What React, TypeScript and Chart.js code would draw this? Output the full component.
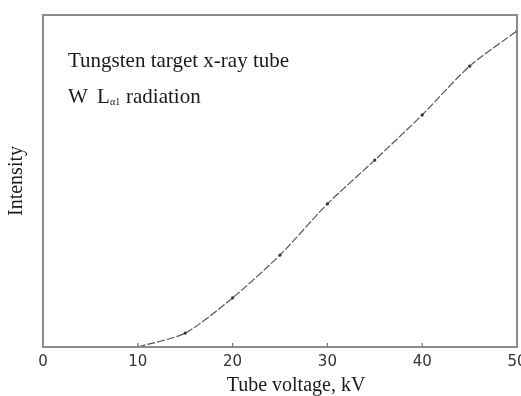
import React, { useEffect, useRef } from "react";
import { Chart, registerables } from "chart.js";

Chart.register(...registerables);

const voltages = [10, 15, 20, 25, 30, 35, 40, 45, 50];
const intensity = [0, 4.2, 14.8, 27.7, 43.1, 56.3, 69.9, 84.6, 95.2];
const xTicks = [0, 10, 20, 30, 40, 50];
const noteLine1 = "Tungsten target x-ray tube";
const noteLine2 = ["W", "L", "α1", "radiation"];
const xTitle = "Tube voltage, kV";
const yTitle = "Intensity";

const framePlugin = {
  id: "frameAndNotes",
  afterDraw(chart: any) {
    const { ctx, chartArea } = chart;
    const xs = chart.scales.x;
    ctx.save();
    // frame
    ctx.strokeStyle = "#8c8c8c";
    ctx.lineWidth = 2;
    ctx.strokeRect(chartArea.left, chartArea.top, chartArea.right - chartArea.left, chartArea.bottom - chartArea.top);
    // inner tick marks
    ctx.strokeStyle = "#777";
    ctx.lineWidth = 1.2;
    xTicks.slice(1, -1).forEach((v) => {
      const px = xs.getPixelForValue(v);
      ctx.beginPath();
      ctx.moveTo(px, chartArea.bottom);
      ctx.lineTo(px, chartArea.bottom - 4);
      ctx.stroke();
    });
    // notes
    ctx.fillStyle = "#1a1a1a";
    ctx.textBaseline = "middle";
    ctx.textAlign = "left";
    ctx.font = "21px 'Liberation Serif'";
    ctx.fillText(noteLine1, 68, 61);
    ctx.fillText(noteLine2[0], 68, 97);
    ctx.fillText(noteLine2[1], 97, 97);
    ctx.font = "10px 'Liberation Serif'";
    ctx.fillText(noteLine2[2], 110, 102);
    ctx.font = "21px 'Liberation Serif'";
    ctx.fillText(noteLine2[3], 126, 97);
    // x title
    ctx.font = "20px 'Liberation Serif'";
    ctx.textAlign = "center";
    ctx.fillText(xTitle, 296, 386);
    ctx.restore();
  },
};

export default function App() {
  const ref = useRef<HTMLCanvasElement>(null);
  useEffect(() => {
    document.body.style.margin = "0";
    const chart = new Chart(ref.current!, {
      type: "line",
      data: {
        datasets: [
          {
            data: voltages.map((v, i) => ({ x: v, y: intensity[i] })),
            borderColor: "#555",
            borderWidth: 1.2,
            borderDash: [8, 2],
            pointRadius: 1.6,
            pointBackgroundColor: "#333",
            pointBorderWidth: 0,
            tension: 0.25,
            fill: false,
          },
        ],
      },
      options: {
        responsive: false,
        animation: false,
        layout: { padding: { top: 15, right: 3, left: 0, bottom: 0 } },
        plugins: { legend: { display: false }, tooltip: { enabled: false } },
        scales: {
          x: {
            type: "linear",
            min: 0,
            max: 50,
            afterBuildTicks: (s: any) => {
              s.ticks = xTicks.map((v) => ({ value: v }));
            },
            afterFit: (s: any) => {
              s.paddingLeft = 0;
              s.paddingRight = 0;
              s.height = 49;
            },
            border: { display: false },
            grid: { drawOnChartArea: false, drawTicks: false },
            ticks: {
              padding: 6,
              color: "#333",
              font: { family: "'DejaVu Sans'", size: 15 },
            },
          },
          y: {
            type: "linear",
            min: 0,
            max: 100,
            afterFit: (s: any) => {
              s.width = 43;
              s.paddingTop = 0;
              s.paddingBottom = 0;
            },
            border: { display: false },
            grid: { display: false },
            ticks: { display: false },
            title: {
              display: true,
              text: yTitle,
              color: "#1a1a1a",
              font: { family: "'Liberation Serif'", size: 20 },
              padding: { top: 5, bottom: 0 },
            },
          },
        },
      },
      plugins: [framePlugin],
    } as any);
    return () => chart.destroy();
  }, []);
  return (
    <div style={{ position: "fixed", left: 0, top: 0, width: 521, height: 396, background: "#fff" }}>
      <canvas ref={ref} width={521} height={396} style={{ width: 521, height: 396 }} />
    </div>
  );
}
